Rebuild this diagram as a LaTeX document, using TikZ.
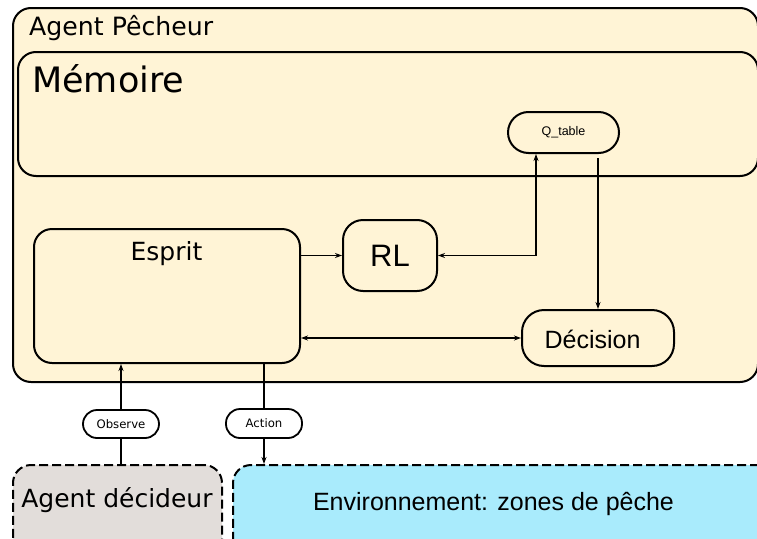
\documentclass[tikz,border=0pt]{standalone}
\usepackage{fontspec}
\setmainfont{DejaVu Sans}
\newfontfamily\arialf{Liberation Sans}
\usetikzlibrary{arrows.meta,calc}
\definecolor{cream}{HTML}{FFF4D6}
\definecolor{greybox}{HTML}{E2DDDA}
\definecolor{cyanbox}{HTML}{A9EBFC}
\newcommand{\fs}[1]{\fontsize{#1}{#1}\selectfont}
\begin{document}
\begin{tikzpicture}[x=1pt,y=-1pt,
  box/.style={draw=black, line width=2pt, rounded corners=18pt, fill=cream, inner sep=0pt},
  pillbox/.style={draw=black, line width=1.8pt, fill=white, inner sep=0pt},
  dashbox/.style={draw=black, line width=2pt, rounded corners=18pt, inner sep=0pt, dash pattern=on 9pt off 4pt},
  conn/.style={draw=black, line width=1.8pt},
  tip/.style={-{Stealth[length=7pt,width=5pt]}},
  lbl/.style={inner sep=0pt, anchor=base}
]
\path[use as bounding box, clip] (0,0) rectangle (757,538);
\fill[white] (0,0) rectangle (757,538);

% containers
\node[box, minimum width=745pt, minimum height=374pt] (pecheur) at (385.5,195) {};
\node[lbl, anchor=base west, font=\fs{25.2}] (pechtxt) at (29,35) {Agent Pêcheur};
\node[box, minimum width=740pt, minimum height=124pt] (memoire) at (388,114) {};
\node[lbl, anchor=base west, font=\fs{35}] (memtxt) at (32,92) {Mémoire};

% inner nodes
\node[box, minimum width=266pt, minimum height=134pt] (esprit) at (167,296) {};
\node[lbl, font=\fs{25}] (esptxt) at (166.5,260) {Esprit};
\node[box, rounded corners=20pt, minimum width=94pt, minimum height=71pt, font=\arialf\fs{31}] (rl) at (390,255.5) {RL};
\node[box, rounded corners=22pt, minimum width=152pt, minimum height=56pt] (decision) at (598,338) {};
\node[lbl, font=\arialf\fs{25}] (dectxt) at (592.5,348) {Décision};
\node[box, rounded corners=20.5pt, minimum width=111pt, minimum height=41pt, font=\arialf\fs{12.5}] (qtable) at (563.5,132.5) {Q\_table};

% bottom boxes
\node[dashbox, fill=greybox, minimum width=209pt, minimum height=100pt] (agentdec) at (117.5,515) {};
\node[lbl, font=\fs{25}] (agdtxt) at (117,507) {Agent décideur};
\node[dashbox, fill=cyanbox, minimum width=557pt, minimum height=100pt] (env) at (511.5,515) {};
\node[lbl, font=\arialf\fs{25}] (envtxt) at (493.5,510) {Environnement: zones de pêche};

% connectors inside
\draw[conn, tip] (esprit.east |- rl.west) -- (rl.west);
\draw[conn, {Stealth[length=7pt,width=5pt]}-{Stealth[length=7pt,width=5pt]}] (rl.east) -| ([xshift=-27.5pt]qtable.south);
\draw[conn, tip] ([yshift=-4pt]qtable.south -| decision.north) -- (decision.north);
\draw[conn, {Stealth[length=7pt,width=5pt]}-{Stealth[length=7pt,width=5pt]}] (esprit.east |- decision.west) -- (decision.west);

% observe / action
\coordinate (obsc) at (121,424);
\coordinate (actc) at (264,423.5);
\draw[conn, tip] (agentdec.north -| obsc) -- (esprit.south -| obsc);
\draw[conn, tip] (esprit.south -| actc) -- (env.north -| actc);
\node[pillbox, rounded corners=14pt, minimum width=76pt, minimum height=28pt, font=\fs{11.7}] (obs) at (obsc) {Observe};
\node[pillbox, rounded corners=14pt, minimum width=76pt, minimum height=29pt, font=\fs{11.7}] (act) at (actc) {Action};
\end{tikzpicture}
\end{document}
